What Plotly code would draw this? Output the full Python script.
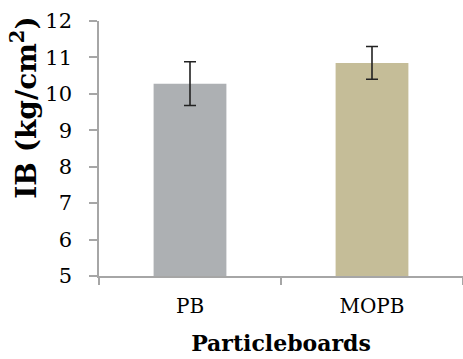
import plotly.graph_objects as go

categories = ["PB", "MOPB"]
ib_values = [10.28, 10.85]
ib_errors = [0.60, 0.45]
bar_colors = ["#adb0b3", "#c5bd98"]
x_title = "Particleboards"
y_title = "IB (kg/cm<sup>2</sup>)"

font_fam = "DejaVu Serif"
fig = go.Figure()
fig.add_trace(go.Bar(
    x=categories, y=ib_values,
    marker=dict(color=bar_colors, line=dict(width=0)),
    width=0.4,
    error_y=dict(type="data", array=ib_errors, visible=True,
                 color="#222222", thickness=1.6, width=6),
))

fig.update_layout(
    width=463, height=359,
    margin=dict(l=99, r=0, t=21, b=83),
    plot_bgcolor="white", paper_bgcolor="white",
    showlegend=False,
    font=dict(family=font_fam, color="black"),
    xaxis=dict(
        showline=True, linecolor="#a6a6a6", linewidth=1.5,
        ticks="outside", ticklen=7, tickcolor="#a6a6a6", tickwidth=1.5,
        tickson="boundaries",
        ticklabelstandoff=11,
        tickfont=dict(size=20, family=font_fam, color="black"),
        title=dict(text="<b>" + x_title + "</b>", font=dict(size=22, family=font_fam), standoff=19),
        showgrid=False,
    ),
    yaxis=dict(
        range=[5, 12], tickvals=[5, 6, 7, 8, 9, 10, 11, 12],
        showline=True, linecolor="#a6a6a6", linewidth=1.5,
        ticks="outside", ticklen=8, tickcolor="#a6a6a6", tickwidth=1.5,
        tickfont=dict(size=21, family=font_fam, color="black"),
        ticklabelstandoff=13,
        showgrid=False, zeroline=False,
    ),
    annotations=[dict(
        text="<b>" + y_title + "</b>", textangle=-90,
        xref="paper", yref="paper", x=-0.203, y=0.66,
        xanchor="center", yanchor="middle", showarrow=False,
        font=dict(size=28, family=font_fam, color="black"),
    )],
)
fig.write_html("out.html")
